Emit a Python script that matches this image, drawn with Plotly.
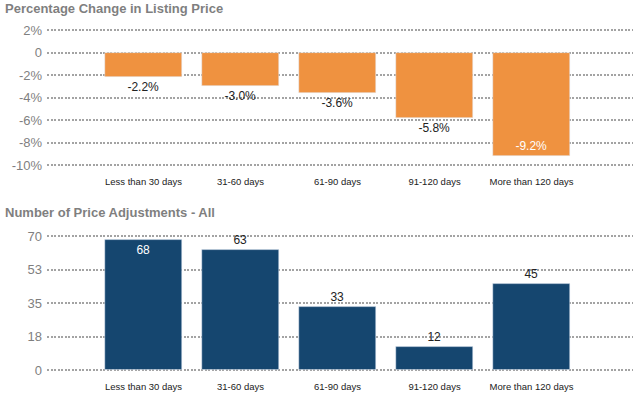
import plotly.graph_objects as go

categories = ["Less than 30 days", "31-60 days", "61-90 days", "91-120 days", "More than 120 days"]
pct_change = [-2.2, -3.0, -3.6, -5.8, -9.2]
adjustments = [68, 63, 33, 12, 45]
pct_ticks = [2, 0, -2, -4, -6, -8, -10]
pct_tick_labels = ["2%", "0", "-2%", "-4%", "-6%", "-8%", "-10%"]
adj_ticks = [0, 17.5, 35, 52.5, 70]
adj_tick_labels = ["0", "18", "35", "53", "70"]

W, H = 633, 400
ORANGE = "#EF9240"
NAVY = "#15466F"
GRID = "#A3A3A3"
AXFONT = dict(family="Liberation Sans, Arial", size=13, color="#7F7F7F")
CATFONT = dict(family="Liberation Sans, Arial", size=9.5, color="#222222")

fig = go.Figure()

pct_pos = ["outside"] * 4 + ["inside"]
pct_colors = ["#222222"] * 4 + ["#FFFFFF"]
fig.add_trace(go.Bar(
    x=list(range(len(categories))), y=pct_change,
    marker_color=ORANGE, width=0.794,
    text=[f"{v:.1f}%" for v in pct_change],
    textposition=pct_pos, insidetextanchor="end",
    textfont=dict(family="Liberation Sans, Arial", size=12, color=pct_colors),
    outsidetextfont=dict(family="Liberation Sans, Arial", size=12, color="#222222"),
    cliponaxis=False,
    xaxis="x", yaxis="y", hoverinfo="skip",
))

adj_pos = ["inside"] + ["outside"] * 4
adj_colors = ["#FFFFFF"] + ["#222222"] * 4
fig.add_trace(go.Bar(
    x=list(range(len(categories))), y=adjustments,
    marker_color=NAVY, width=0.794,
    text=[str(v) for v in adjustments],
    textposition=adj_pos, insidetextanchor="end",
    textfont=dict(family="Liberation Sans, Arial", size=12, color=adj_colors),
    outsidetextfont=dict(family="Liberation Sans, Arial", size=12, color="#222222"),
    cliponaxis=False,
    xaxis="x2", yaxis="y2", hoverinfo="skip",
))

xr = [-0.995, 5.046]
xcommon = dict(
    range=xr, tickmode="array", tickvals=list(range(len(categories))),
    ticktext=categories, tickfont=CATFONT, showgrid=False, zeroline=False,
    showline=False, ticks="", ticklabelstandoff=8, fixedrange=True,
    domain=[47 / W, 1.0], automargin=False,
)
ycommon = dict(
    showgrid=True, gridcolor=GRID, griddash="2px,1.5px", gridwidth=2,
    zeroline=False, showline=False, tickfont=AXFONT, ticks="",
    ticklabelstandoff=4, tickmode="array", fixedrange=True, automargin=False,
)

# small padding so edge gridlines are drawn (pixels -> data units)
p1 = 0.1
p2 = 0.6
fig.update_layout(
    width=W, height=H,
    margin=dict(l=0, r=0, t=0, b=0),
    paper_bgcolor="white", plot_bgcolor="white",
    showlegend=False, bargap=0,
    xaxis=dict(**xcommon, anchor="y"),
    yaxis=dict(**ycommon, range=[-10 - p1, 2 + p1], tickvals=pct_ticks, ticktext=pct_tick_labels,
               domain=[1 - (165 + p1 * 11.25) / H, 1 - (30 - p1 * 11.25) / H], anchor="x"),
    xaxis2=dict(**xcommon, anchor="y2"),
    yaxis2=dict(**ycommon, range=[0 - p2, 70 + p2], tickvals=adj_ticks, ticktext=adj_tick_labels,
                domain=[1 - (370 + p2 * 1.914) / H, 1 - (236 - p2 * 1.914) / H], anchor="x2"),
)

title_font = dict(family="Liberation Sans, Arial", size=13, color="#7F7F7F")
fig.add_annotation(text="<b>Percentage Change in Listing Price</b>", xref="paper", yref="paper",
                   x=3 / W, y=1 - 8 / H, xanchor="left", yanchor="middle",
                   showarrow=False, font=title_font)
fig.add_annotation(text="<b>Number of Price Adjustments - All</b>", xref="paper", yref="paper",
                   x=3 / W, y=1 - 212 / H, xanchor="left", yanchor="middle",
                   showarrow=False, font=title_font)

fig.write_html(
    "out.html",
    config={"displayModeBar": False},
    post_script="document.body.style.margin='0';document.body.style.padding='0';document.body.style.overflow='hidden';",
)
